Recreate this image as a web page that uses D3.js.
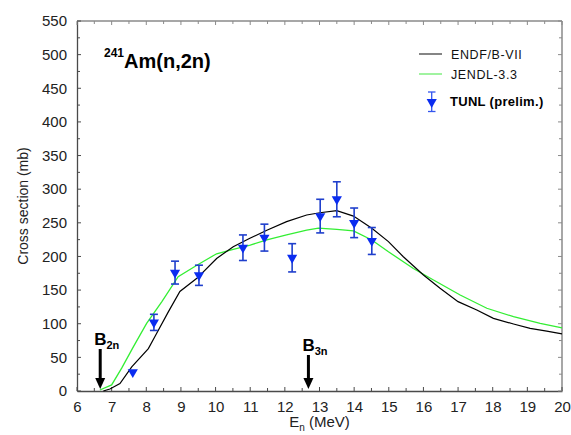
<!DOCTYPE html>
<html>
<head>
<meta charset="utf-8">
<script src="https://cdn.jsdelivr.net/npm/d3@7"></script>
<style>
  html, body { margin: 0; padding: 0; background: #fff; }
  svg { display: block; font-family: "Liberation Sans", Arial, sans-serif; }
</style>
</head>
<body>
<svg id="chart" width="571" height="435"></svg>
<script>
// ---- data ----
const endfE  = [6.76, 6.95, 7.24, 7.58, 8.06, 8.25, 8.64, 8.97, 9.46, 10.03, 10.51, 10.99, 11.48, 12.05, 12.63, 13.01, 13.5, 13.98, 14.51, 14.99, 15.42, 16.0, 16.48, 17.0, 17.54, 18.02, 18.6, 19.08, 19.56, 20.0];
const endfXS = [0, 3, 11, 36, 63, 81, 118, 148, 167.5, 197, 214.5, 227, 239, 251.7, 261.6, 265, 268, 260, 242, 222, 199.6, 172.4, 152.6, 132.8, 120.4, 108, 99.6, 93, 89, 85];
const jendlE  = [6.66, 7.0, 7.29, 7.63, 8.01, 8.45, 8.92, 9.46, 10.03, 10.51, 11.0, 11.48, 12.05, 12.63, 12.97, 13.5, 13.98, 14.51, 14.99, 15.71, 16.29, 17.06, 17.83, 18.6, 19.37, 20.0];
const jendlXS = [1.5, 9, 34, 66, 100.6, 133, 170, 187, 204, 210.6, 217, 224.5, 232, 239, 242, 240.4, 238, 224.5, 207, 182, 165, 142.7, 123, 110.5, 100.6, 94];
const tunlE   = [7.61, 8.22, 8.83, 9.52, 10.79, 11.41, 12.21, 13.02, 13.5, 14.0, 14.51];
const tunlXS  = [28, 102, 176, 172, 213, 228, 198, 260, 285, 250, 223];
const tunlErr = [0, 12, 17, 15, 19, 20, 21, 25, 26, 22, 20];
const thresholdE = [6.67, 12.68];
const thresholdLabels = [["B", "2n"], ["B", "3n"]];
const xTicks = [6, 7, 8, 9, 10, 11, 12, 13, 14, 15, 16, 17, 18, 19, 20];
const yTicks = [0, 50, 100, 150, 200, 250, 300, 350, 400, 450, 500, 550];
const legendLabels = ["ENDF/B-VII", "JENDL-3.3", "TUNL (prelim.)"];

// ---- layout ----
const L = 77, R = 562, T = 21, B = 391;
const svg = d3.select("#chart");
const x = d3.scaleLinear().domain([6, 20]).range([L, R]);
const y = d3.scaleLinear().domain([0, 550]).range([B, T]);

const black = "#000", green = "#33ee33", blue = "#0a2cf0", errBlue = "#1f3fcc";
const axisDark = "#4a4a4a", axisLight = "#8a8a8a", labelCol = "#222";

// minor ticks
const xMinor = d3.range(6, 20.01, 0.5);
const yMinor = d3.range(0, 550.01, 25);

// frame
svg.append("line").attr("x1", L).attr("x2", R).attr("y1", T).attr("y2", T).attr("stroke", axisLight).attr("stroke-width", 1.5);
svg.append("line").attr("x1", R).attr("x2", R).attr("y1", T).attr("y2", B).attr("stroke", axisLight).attr("stroke-width", 1.5);

// bottom axis
const gx = svg.append("g").attr("transform", `translate(0,${B})`)
  .call(d3.axisBottom(x).tickValues(xTicks).tickSize(0).tickPadding(10).tickFormat(d3.format("d")));
gx.select(".domain").attr("stroke", axisDark).attr("stroke-width", 1.3);
gx.selectAll("text").attr("font-size", 15).attr("fill", labelCol).attr("font-family", "Liberation Sans, Arial, sans-serif");
// left axis
const gy = svg.append("g").attr("transform", `translate(${L},0)`)
  .call(d3.axisLeft(y).tickValues(yTicks).tickSize(0).tickPadding(10));
gy.select(".domain").attr("stroke", axisDark).attr("stroke-width", 1.3);
gy.selectAll("text").attr("font-size", 15).attr("fill", labelCol).attr("font-family", "Liberation Sans, Arial, sans-serif");

// inward ticks
const tk = svg.append("g");
xMinor.forEach(v => {
  const len = Number.isInteger(v) ? 4 : 3;
  tk.append("line").attr("x1", x(v)).attr("x2", x(v)).attr("y1", B).attr("y2", B - len).attr("stroke", axisDark);
  tk.append("line").attr("x1", x(v)).attr("x2", x(v)).attr("y1", T).attr("y2", T + len).attr("stroke", axisLight);
});
yMinor.forEach(v => {
  const len = (v % 50 === 0) ? 4 : 3;
  tk.append("line").attr("x1", L).attr("x2", L + len).attr("y1", y(v)).attr("y2", y(v)).attr("stroke", axisDark);
  tk.append("line").attr("x1", R).attr("x2", R - len).attr("y1", y(v)).attr("y2", y(v)).attr("stroke", axisLight);
});

// axis titles
svg.append("text").attr("transform", `translate(28,${(T + B) / 2}) rotate(-90)`)
  .attr("text-anchor", "middle").attr("font-size", 14).attr("fill", labelCol).text("Cross section (mb)");
const xt = svg.append("text").attr("x", (L + R) / 2).attr("y", 427).attr("text-anchor", "middle")
  .attr("font-size", 15).attr("fill", labelCol);
xt.append("tspan").text("E");
xt.append("tspan").attr("font-size", 10).attr("dy", 4).text("n");
xt.append("tspan").attr("dy", -4).text(" (MeV)");

// curves
const line = d3.line().x(d => x(d[0])).y(d => y(d[1]));
svg.append("path").datum(d3.zip(jendlE, jendlXS)).attr("d", line)
  .attr("fill", "none").attr("stroke", green).attr("stroke-width", 1.3);
svg.append("path").datum(d3.zip(endfE, endfXS)).attr("d", line)
  .attr("fill", "none").attr("stroke", black).attr("stroke-width", 1.2);

// data points
const tri = d3.symbol().type(d3.symbolTriangle).size(45);
const pts = svg.append("g");
tunlE.forEach((e, i) => {
  const cx = x(e), cy = y(tunlXS[i]), err = tunlErr[i];
  if (err > 0) {
    pts.append("line").attr("x1", cx).attr("x2", cx).attr("y1", y(tunlXS[i] + err)).attr("y2", y(tunlXS[i] - err)).attr("stroke", errBlue).attr("stroke-width", 1.6);
    [tunlXS[i] + err, tunlXS[i] - err].forEach(v => {
      pts.append("line").attr("x1", cx - 4).attr("x2", cx + 4).attr("y1", y(v)).attr("y2", y(v)).attr("stroke", errBlue).attr("stroke-width", 1.6);
    });
  }
  pts.append("path").attr("d", tri).attr("transform", `translate(${cx},${cy}) rotate(180)`).attr("fill", blue);
});

// thresholds
thresholdE.forEach((e, i) => {
  const ax = x(e);
  const topY = i === 0 ? 349 : 355;
  const g = svg.append("g");
  g.append("line").attr("x1", ax).attr("x2", ax).attr("y1", topY).attr("y2", B - 10).attr("stroke", "#000").attr("stroke-width", 3);
  g.append("path").attr("d", `M${ax - 5},${B - 13} L${ax + 5},${B - 13} L${ax},${B - 2} Z`).attr("fill", "#000");
  const t = g.append("text").attr("x", ax - 6).attr("y", topY - 4).attr("font-weight", "bold").attr("font-size", 17).attr("fill", "#000");
  t.append("tspan").text(thresholdLabels[i][0]);
  t.append("tspan").attr("font-size", 11).attr("dy", 4).text(thresholdLabels[i][1]);
});

// title
const title = svg.append("text").attr("x", 104).attr("y", 68).attr("font-weight", "bold").attr("fill", "#000");
title.append("tspan").attr("font-size", 12).attr("dy", -11).text("241");
title.append("tspan").attr("font-size", 20).attr("dy", 11).text("Am(n,2n)");

// legend
const lg = svg.append("g");
lg.append("line").attr("x1", 419).attr("x2", 442).attr("y1", 54).attr("y2", 54).attr("stroke", "#333").attr("stroke-width", 1.2);
lg.append("text").attr("x", 451).attr("y", 58.5).attr("font-size", 12.5).attr("letter-spacing", 0.6).attr("fill", "#111").text(legendLabels[0]);
lg.append("line").attr("x1", 419).attr("x2", 442).attr("y1", 74).attr("y2", 74).attr("stroke", "#77ee77").attr("stroke-width", 1.4);
lg.append("text").attr("x", 451).attr("y", 78.5).attr("font-size", 12.5).attr("letter-spacing", 0.6).attr("fill", "#111").text(legendLabels[1]);
lg.append("line").attr("x1", 431.7).attr("x2", 431.7).attr("y1", 92).attr("y2", 111.5).attr("stroke", "#3355ee").attr("stroke-width", 1.3);
[92, 111.5].forEach(v => lg.append("line").attr("x1", 428).attr("x2", 435.5).attr("y1", v).attr("y2", v).attr("stroke", "#3355ee").attr("stroke-width", 1.3));
lg.append("path").attr("d", tri).attr("transform", `translate(431.7,102) rotate(180)`).attr("fill", blue);
lg.append("text").attr("x", 450).attr("y", 106).attr("font-size", 13).attr("font-weight", "bold").attr("letter-spacing", 0.3).attr("fill", "#000").text(legendLabels[2]);
</script>
</body>
</html>
